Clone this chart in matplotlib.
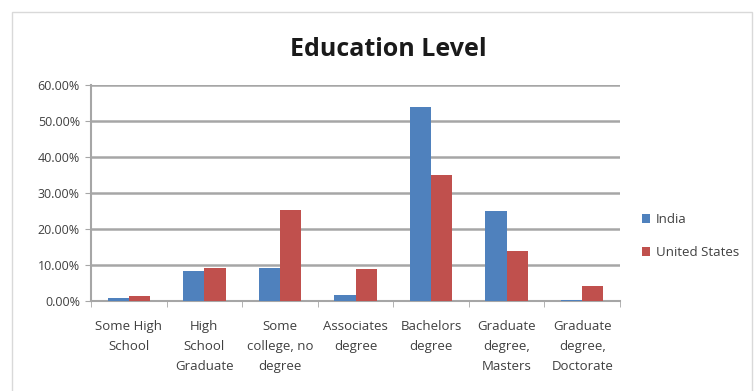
import numpy as np
import matplotlib.pyplot as plt
from matplotlib.patches import Rectangle
from matplotlib.ticker import FuncFormatter, FixedLocator

# 数据
categories = ['Some High\nSchool', 'High\nSchool\nGraduate', 'Some\ncollege, no\ndegree',
              'Associates\ndegree', 'Bachelors\ndegree', 'Graduate\ndegree,\nMasters',
              'Graduate\ndegree,\nDoctorate']
india = [0.008, 0.083, 0.093, 0.016, 0.539, 0.25, 0.004]
united_states = [0.015, 0.093, 0.253, 0.088, 0.349, 0.139, 0.041]
y_ticks = [0.0, 0.1, 0.2, 0.3, 0.4, 0.5, 0.6]

BLUE = '#4F81BD'
RED = '#C0504D'
GRID = '#A6A6A6'
TEXT = '#404040'

plt.rcParams['font.family'] = ['Open Sans', 'DejaVu Sans']

fig = plt.figure(figsize=(7.56, 3.91), dpi=100)
fig.patches.append(Rectangle((12 / 756, -0.01), (752 - 12) / 756, 1 - 12 / 391 + 0.01,
                             transform=fig.transFigure, fill=False,
                             edgecolor='#D9D9D9', lw=1.0))

ax = fig.add_axes([91 / 756, 1 - 301 / 391, (620 - 91) / 756, (301 - 85) / 391])

x = np.arange(len(categories))
w = 0.28
ax.bar(x - w / 2, india, w, color=BLUE, label='India', zorder=3)
ax.bar(x + w / 2, united_states, w, color=RED, label='United States', zorder=3)

ax.set_xlim(-0.5, len(categories) - 0.5)
ax.set_ylim(0, 0.6)
ax.set_yticks(y_ticks)
ax.yaxis.set_major_formatter(FuncFormatter(lambda v, p: f'{v * 100:.2f}%'))
ax.yaxis.grid(True, color=GRID, lw=1.8, zorder=0)

ax.set_xticks(x)
ax.set_xticklabels(categories, fontsize=9.5, color=TEXT, linespacing=1.7)
ax.xaxis.set_minor_locator(FixedLocator(np.arange(-0.5, len(categories), 1.0)))
ax.tick_params(axis='x', which='major', length=0, pad=14)
ax.tick_params(axis='x', which='minor', length=4, color=GRID, direction='out')
ax.tick_params(axis='y', length=4, color=GRID, labelsize=9, labelcolor=TEXT, pad=4)

for s in ['top', 'right']:
    ax.spines[s].set_visible(False)
ax.spines['left'].set_color(GRID)
ax.spines['bottom'].set_color(GRID)
ax.spines['left'].set_linewidth(1.5)
ax.spines['bottom'].set_linewidth(1.5)

fig.text(388 / 756, 1 - 50 / 391, 'Education Level', ha='center', va='center',
         fontsize=18, fontweight='bold', color='#1A1A1A')

ax.legend(loc='center left', bbox_to_anchor=(1.02, 0.30), frameon=False,
          fontsize=9.5, handlelength=0.6, handleheight=0.6, handletextpad=0.4,
          labelspacing=1.5, labelcolor=TEXT)

fig.savefig('out.png', dpi=100)
